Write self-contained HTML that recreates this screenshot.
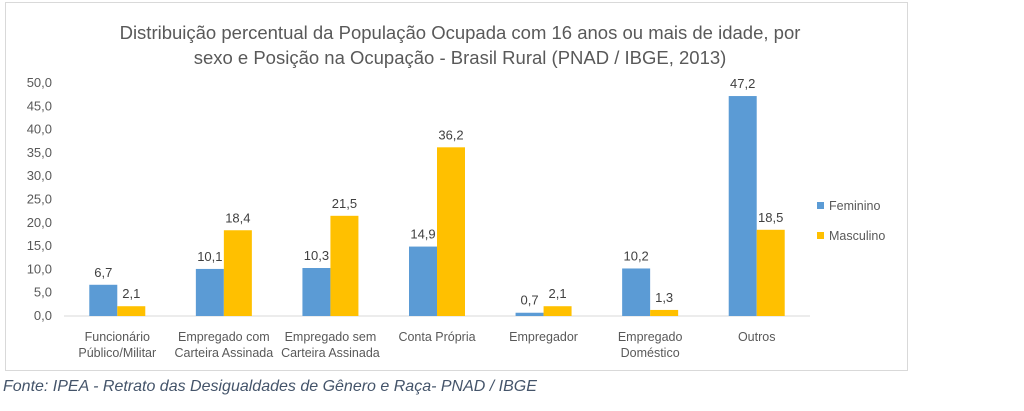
<!DOCTYPE html>
<html><head><meta charset="utf-8"><style>
body{margin:0;width:1024px;height:411px;background:#fff;overflow:hidden;font-family:"Liberation Sans",sans-serif}
#frame{position:absolute;left:5px;top:2px;width:901px;height:367px;border:1px solid #d9d9d9}
#src{position:absolute;left:3px;top:378px;font-style:italic;font-size:16px;color:#44546a}
</style></head><body>
<div id="frame"></div>
<svg width="1024" height="411" style="position:absolute;left:0;top:0">
<g id="g"></g></svg>
<div id="src">Fonte: IPEA - Retrato das Desigualdades de Gênero e Raça- PNAD / IBGE</div>
<script>
const categories=[["Funcionário","Público/Militar"],["Empregado com","Carteira Assinada"],["Empregado sem","Carteira Assinada"],["Conta Própria"],["Empregador"],["Empregado","Doméstico"],["Outros"]];
const feminino=[6.7,10.1,10.3,14.9,0.7,10.2,47.2];
const masculino=[2.1,18.4,21.5,36.2,2.1,1.3,18.5];
const ticks=[0,5,10,15,20,25,30,35,40,45,50];
const NS="http://www.w3.org/2000/svg",g=document.getElementById('g');
const x0=64,x1=810,y0=316,y50=83;
const y=v=>y0-(v/50)*(y0-y50);
const cw=(x1-x0)/categories.length;
function mk(t,a,txt){const e=document.createElementNS(NS,t);for(const k in a)e.setAttribute(k,a[k]);if(txt!=null)e.textContent=txt;g.appendChild(e);return e;}
let e;
e=mk('text',{x:460,y:39,'text-anchor':'middle','font-size':18.5,fill:'#595959'},'Distribuição percentual da População Ocupada com 16 anos ou mais de idade, por');


e=mk('text',{x:460,y:64,'text-anchor':'middle','font-size':18.5,fill:'#595959'},'sexo e Posição na Ocupação - Brasil Rural (PNAD / IBGE, 2013)');


ticks.forEach(t=>{e=mk('text',{x:52,y:y(t)+4,'text-anchor':'end','font-size':13,fill:'#595959'},t.toFixed(1).replace('.',','));

});
e=mk('line',{x1:x0,x2:x1,y1:y0,y2:y0,stroke:'#d9d9d9','stroke-width':1});


const bw=28;
categories.forEach((c,i)=>{const cx=x0+cw*(i+0.5);
[[feminino[i],cx-bw,'#5b9bd5','bar-feminino'],[masculino[i],cx,'#ffc000','bar-masculino']].forEach(([v,bx,col,n])=>{
e=mk('rect',{x:bx,y:y(v),width:bw,height:y0-y(v),fill:col});


e=mk('text',{x:bx+bw/2,y:y(v)-8,'text-anchor':'middle','font-size':13,fill:'#404040'},v.toFixed(1).replace('.',','));

});
c.forEach((l,j)=>{e=mk('text',{x:cx,y:341+j*16,'text-anchor':'middle','font-size':12.5,fill:'#595959'},l);

});});
[['Feminino','#5b9bd5',207],['Masculino','#ffc000',237]].forEach(([t,c,ly])=>{
e=mk('rect',{x:817,y:ly-5,width:7,height:7,fill:c});


e=mk('text',{x:829,y:ly+3,'font-size':12.5,fill:'#595959'},t);

});
</script></body></html>
